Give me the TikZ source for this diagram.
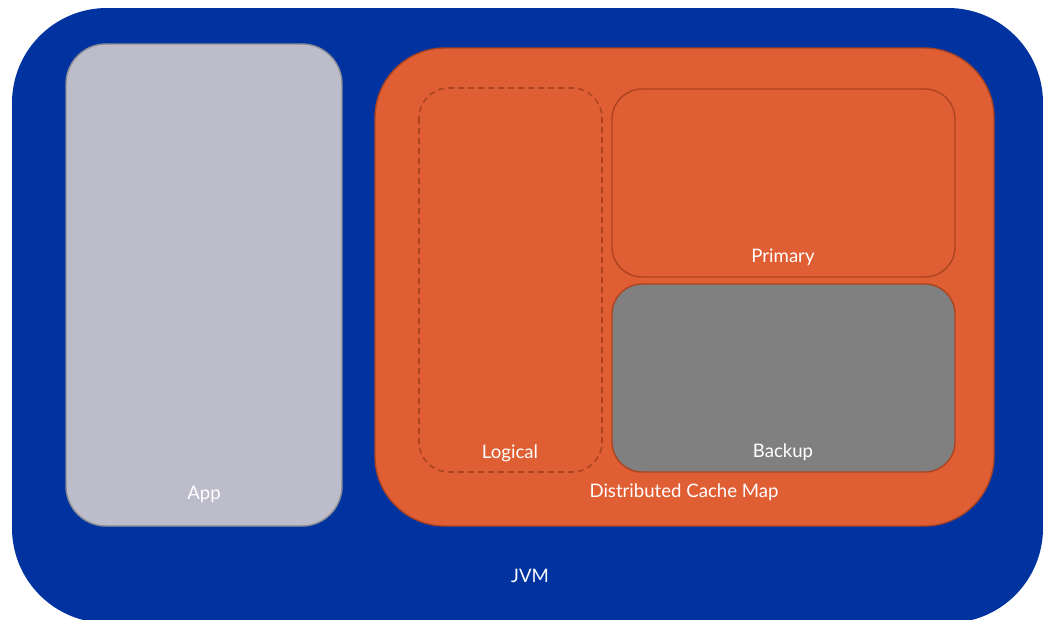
\documentclass[tikz,border=0pt]{standalone}
\usepackage{fontspec}
\setmainfont{Lato}
\definecolor{jvmblue}{RGB}{0,51,160}
\definecolor{cacheorange}{RGB}{224,94,51}
\definecolor{cacheedge}{RGB}{172,68,34}
\definecolor{appgray}{RGB}{188,188,202}
\definecolor{appedge}{RGB}{140,140,150}
\definecolor{backupgray}{RGB}{128,128,128}
\tikzset{
  lbl/.style={text=white, font=\fontsize{18.6}{22}\selectfont, inner sep=0pt, anchor=center},
  panel/.style={rounded corners=#1, line width=1.4pt},
}
\begin{document}
\begin{tikzpicture}[x=1pt,y=-1pt]
\useasboundingbox (0,0) rectangle (1043,619);
\begin{scope}
\clip (0,0) rectangle (1043,619);
% JVM container
\fill[jvmblue, rounded corners=95] (12,8) rectangle (1043,623);
\end{scope}
% application area
\draw[panel=40, fill=appgray, draw=appedge] (66,44) rectangle (342,526);
% cache map and its partitions
\draw[panel=70, fill=cacheorange, draw=cacheedge] (375,48) rectangle (994,526);
\draw[panel=30, draw=cacheedge, line width=1.6pt, dash pattern=on 6pt off 4pt] (419,88) rectangle (602,472);
\draw[panel=30, fill=cacheorange, draw=cacheedge] (612,89) rectangle (955,277);
\draw[panel=30, fill=backupgray, draw=cacheedge] (612,284) rectangle (955,472);
% labels
\node[lbl] (app) at (204,494) {App};
\node[lbl] (map) at (684,492) {Distributed Cache Map};
\node[lbl] (logical) at (510,453) {Logical};
\node[lbl] (primary) at (783,257) {Primary};
\node[lbl] (backup) at (783,452) {Backup};
\node[lbl] (jvm) at (530,576) {JVM};
\end{tikzpicture}
\end{document}
